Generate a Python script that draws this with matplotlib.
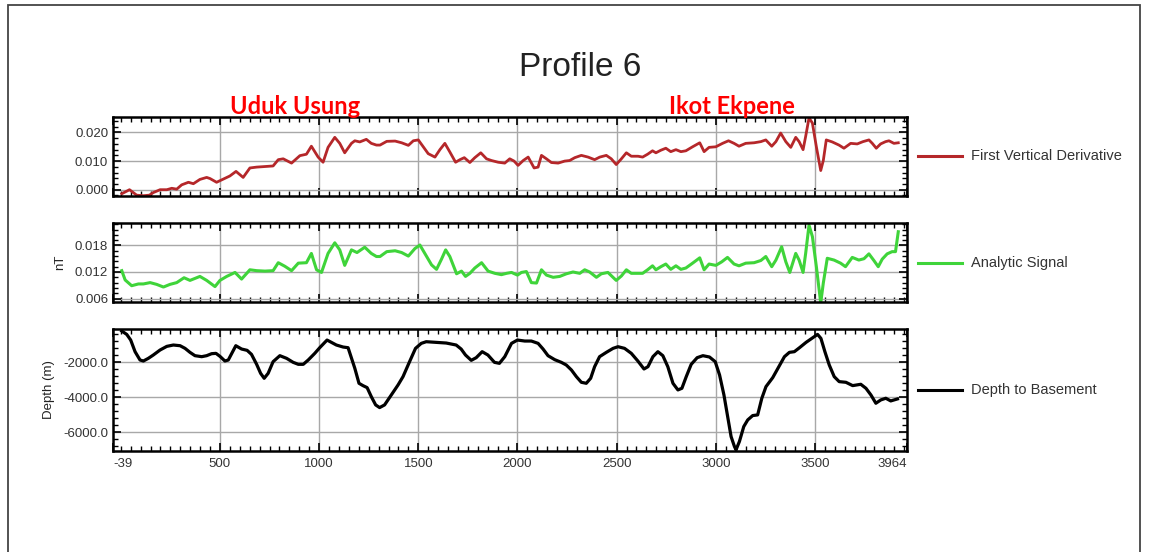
import matplotlib.pyplot as plt
import numpy as np
from matplotlib.lines import Line2D
from matplotlib.patches import Rectangle
from matplotlib.ticker import MultipleLocator

plt.rcParams['font.family'] = ['Liberation Sans', 'DejaVu Sans']
plt.rcParams['axes.unicode_minus'] = False

# station distance along profile 6 and the three traces
fvd_x = [5, 44, 80, 114, 144, 164, 198, 232, 257, 282, 307, 341, 366, 399, 433, 450,
         483, 525, 550, 581, 617, 651, 685, 727, 768, 794, 819, 861, 903, 936, 961, 995,
         1020, 1045, 1079, 1104, 1129, 1163, 1180, 1205, 1238, 1263, 1289, 1307, 1341,
         1383, 1416, 1450, 1475, 1500, 1525, 1550, 1584, 1609, 1634, 1659, 1688, 1710,
         1732, 1760, 1785, 1815, 1844, 1869, 1903, 1936, 1961, 1983, 2003, 2029, 2054,
         2084, 2104, 2121, 2146, 2171, 2205, 2238, 2263, 2289, 2322, 2356, 2389, 2415,
         2448, 2473, 2498, 2524, 2549, 2574, 2608, 2631, 2656, 2681, 2698, 2723, 2748,
         2773, 2799, 2824, 2849, 2883, 2919, 2941, 2966, 3000, 3034, 3064, 3092, 3117,
         3151, 3193, 3227, 3252, 3282, 3303, 3327, 3353, 3378, 3403, 3420, 3440, 3453,
         3470, 3487, 3507, 3529, 3542, 3557, 3587, 3621, 3646, 3680, 3713, 3742, 3772,
         3789, 3809, 3831, 3856, 3873, 3898, 3920]
fvd_y = [-0.0014, 0.0000, -0.0019, -0.0021, -0.0019, -0.0010, 0.0000, 0.0000, 0.0005,
         0.0002, 0.0017, 0.0026, 0.0021, 0.0036, 0.0043, 0.0039, 0.0026, 0.0040, 0.0048,
         0.0064, 0.0043, 0.0076, 0.0079, 0.0081, 0.0083, 0.0105, 0.0108, 0.0093, 0.0119,
         0.0124, 0.0152, 0.0114, 0.0096, 0.0148, 0.0183, 0.0162, 0.0129, 0.0162, 0.0171,
         0.0167, 0.0176, 0.0162, 0.0156, 0.0156, 0.0169, 0.0170, 0.0164, 0.0155, 0.0171,
         0.0174, 0.0150, 0.0126, 0.0114, 0.0140, 0.0162, 0.0132, 0.0096, 0.0105, 0.0112,
         0.0095, 0.0112, 0.0129, 0.0108, 0.0102, 0.0096, 0.0093, 0.0108, 0.0100, 0.0085,
         0.0102, 0.0114, 0.0076, 0.0079, 0.0120, 0.0108, 0.0095, 0.0093, 0.0100, 0.0102,
         0.0112, 0.0120, 0.0114, 0.0105, 0.0114, 0.0120, 0.0108, 0.0088, 0.0108, 0.0129,
         0.0117, 0.0117, 0.0114, 0.0124, 0.0136, 0.0129, 0.0138, 0.0145, 0.0133, 0.0140,
         0.0133, 0.0136, 0.0150, 0.0164, 0.0133, 0.0148, 0.0150, 0.0162, 0.0171, 0.0162,
         0.0152, 0.0162, 0.0164, 0.0168, 0.0174, 0.0152, 0.0168, 0.0198, 0.0168, 0.0148,
         0.0183, 0.0168, 0.0140, 0.0186, 0.0251, 0.0233, 0.0150, 0.0067, 0.0102, 0.0174,
         0.0167, 0.0156, 0.0145, 0.0162, 0.0160, 0.0168, 0.0174, 0.0162, 0.0145, 0.0160,
         0.0168, 0.0171, 0.0162, 0.0164]

as_x = [5, 22, 55, 89, 114, 148, 181, 215, 248, 282, 319, 349, 399, 433, 475, 500, 534,
        576, 609, 651, 685, 727, 768, 794, 827, 861, 895, 936, 961, 987, 1012, 1045, 1079,
        1104, 1129, 1163, 1191, 1230, 1263, 1289, 1307, 1341, 1383, 1416, 1450, 1483,
        1508, 1534, 1567, 1592, 1617, 1638, 1659, 1693, 1718, 1738, 1760, 1785, 1819,
        1852, 1886, 1919, 1945, 1970, 2000, 2020, 2045, 2070, 2096, 2121, 2146, 2180,
        2213, 2247, 2280, 2314, 2339, 2364, 2398, 2423, 2456, 2498, 2524, 2549, 2574,
        2608, 2631, 2656, 2681, 2698, 2723, 2748, 2773, 2799, 2824, 2849, 2883, 2919,
        2941, 2966, 3000, 3030, 3059, 3092, 3117, 3151, 3193, 3227, 3252, 3282, 3303,
        3332, 3353, 3373, 3403, 3420, 3440, 3453, 3470, 3487, 3507, 3529, 3542, 3562,
        3596, 3629, 3654, 3688, 3721, 3747, 3772, 3797, 3819, 3839, 3864, 3889, 3906, 3920]
as_y = [0.0123, 0.0102, 0.0089, 0.0093, 0.0093, 0.0096, 0.0092, 0.0086, 0.0092, 0.0096,
        0.0107, 0.0101, 0.0110, 0.0101, 0.0087, 0.0101, 0.0110, 0.0119, 0.0104, 0.0125,
        0.0123, 0.0122, 0.0123, 0.0141, 0.0133, 0.0123, 0.0140, 0.0141, 0.0162, 0.0125,
        0.0119, 0.0162, 0.0186, 0.0170, 0.0135, 0.0170, 0.0164, 0.0176, 0.0162, 0.0155,
        0.0155, 0.0166, 0.0168, 0.0164, 0.0156, 0.0173, 0.0181, 0.0161, 0.0136, 0.0126,
        0.0149, 0.0170, 0.0155, 0.0116, 0.0122, 0.0110, 0.0117, 0.0129, 0.0141, 0.0122,
        0.0117, 0.0114, 0.0117, 0.0119, 0.0113, 0.0119, 0.0121, 0.0096, 0.0095, 0.0125,
        0.0113, 0.0108, 0.0110, 0.0116, 0.0120, 0.0117, 0.0125, 0.0120, 0.0108, 0.0116,
        0.0119, 0.0101, 0.0111, 0.0125, 0.0117, 0.0117, 0.0117, 0.0125, 0.0134, 0.0125,
        0.0132, 0.0138, 0.0126, 0.0134, 0.0126, 0.0129, 0.0140, 0.0152, 0.0125, 0.0138,
        0.0135, 0.0143, 0.0153, 0.0138, 0.0134, 0.0140, 0.0141, 0.0146, 0.0155, 0.0132,
        0.0147, 0.0177, 0.0143, 0.0119, 0.0162, 0.0147, 0.0119, 0.0162, 0.0226, 0.0200,
        0.0132, 0.0050, 0.0095, 0.0151, 0.0147, 0.0140, 0.0132, 0.0153, 0.0147, 0.0150,
        0.0161, 0.0146, 0.0132, 0.0149, 0.0161, 0.0166, 0.0166, 0.0211]

depth_x = [5, 30, 50, 72, 97, 114, 139, 164, 198, 232, 265, 299, 324, 349, 374, 408, 433,
           458, 480, 500, 525, 542, 564, 580, 609, 637, 659, 685, 705, 723, 743, 768, 802,
           836, 869, 895, 920, 945, 978, 1003, 1024, 1040, 1062, 1087, 1121, 1146, 1158,
           1180, 1201, 1221, 1242, 1263, 1285, 1305, 1330, 1364, 1398, 1423, 1456, 1486,
           1515, 1540, 1590, 1641, 1691, 1716, 1738, 1767, 1792, 1822, 1851, 1884, 1909,
           1936, 1970, 2000, 2037, 2070, 2104, 2129, 2154, 2188, 2221, 2246, 2272, 2297,
           2322, 2347, 2369, 2389, 2414, 2448, 2482, 2507, 2540, 2574, 2607, 2638, 2658,
           2683, 2708, 2733, 2758, 2784, 2809, 2829, 2851, 2876, 2906, 2935, 2968, 2997,
           3019, 3041, 3061, 3077, 3094, 3102, 3119, 3141, 3161, 3186, 3211, 3232, 3253,
           3287, 3321, 3346, 3371, 3396, 3422, 3455, 3489, 3513, 3530, 3550, 3572, 3597,
           3622, 3656, 3690, 3731, 3757, 3782, 3807, 3832, 3857, 3882, 3916]
depth_y = [-209, -400, -724, -1390, -1867, -1924, -1771, -1581, -1295, -1086, -1009, -1048,
           -1200, -1429, -1619, -1676, -1619, -1505, -1486, -1657, -1924, -1867, -1390,
           -1048, -1238, -1314, -1543, -2114, -2629, -2914, -2629, -1962, -1619, -1771,
           -2000, -2114, -2114, -1867, -1486, -1162, -914, -724, -857, -1009, -1124, -1162,
           -1581, -2343, -3200, -3333, -3448, -3962, -4438, -4591, -4438, -3867, -3295,
           -2819, -1962, -1200, -914, -819, -857, -895, -1009, -1238, -1581, -1886, -1733,
           -1390, -1581, -2000, -2057, -1676, -914, -724, -781, -781, -914, -1238, -1619,
           -1848, -2000, -2152, -2438, -2819, -3143, -3200, -2914, -2248, -1676, -1429,
           -1200, -1105, -1200, -1486, -1924, -2381, -2248, -1676, -1390, -1619, -2248,
           -3200, -3581, -3486, -2819, -2114, -1733, -1619, -1695, -1962, -2724, -3867,
           -5200, -6248, -6820, -7010, -6534, -5677, -5296, -5048, -5010, -4057, -3391,
           -2876, -2191, -1676, -1429, -1390, -1162, -857, -591, -400, -629, -1390, -2152,
           -2819, -3105, -3143, -3333, -3257, -3486, -3867, -4343, -4152, -4057, -4210, -4095]

x_ticks = [-39, 500, 1000, 1500, 2000, 2500, 3000, 3500, 3964]
x_labels = ['-39', '500', '1000', '1500', '2000', '2500', '3000', '3500', '3964']
names = ['First Vertical Derivative', 'Analytic Signal', 'Depth to Basement']
colors = ['#b5272a', '#3fd43a', '#000000']

fig = plt.figure(figsize=(11.5, 5.52), dpi=100)

# page frame
fig.add_artist(Rectangle((0.007, -0.05), 0.984, 1.041, transform=fig.transFigure,
                         fill=False, edgecolor='#444444', linewidth=1.3))

ax1 = fig.add_axes([0.0983, 0.6449, 0.6904, 0.1431])
ax2 = fig.add_axes([0.0983, 0.4534, 0.6904, 0.1420])
ax3 = fig.add_axes([0.0983, 0.1835, 0.6904, 0.2199])

ax1.plot(fvd_x, fvd_y, color=colors[0], lw=2.0, solid_joinstyle='round')
ax2.plot(as_x, as_y, color=colors[1], lw=2.2, solid_joinstyle='round')
ax3.plot(depth_x, depth_y, color=colors[2], lw=2.3, solid_joinstyle='round')

ax1.set_ylim(-0.0022, 0.0254)
ax1.set_yticks([0.0, 0.010, 0.020])
ax1.set_yticklabels(['0.000', '0.010', '0.020'])
ax1.yaxis.set_minor_locator(MultipleLocator(0.002))

ax2.set_ylim(0.00528, 0.0230)
ax2.set_yticks([0.006, 0.012, 0.018])
ax2.set_yticklabels(['0.006', '0.012', '0.018'])
ax2.yaxis.set_minor_locator(MultipleLocator(0.0012))
ax2.set_ylabel('nT', fontsize=9.5, color='#222222', labelpad=6)

ax3.set_ylim(-7060, -110)
ax3.set_yticks([-6000, -4000, -2000])
ax3.set_yticklabels(['-6000.0', '-4000.0', '-2000.0'])
ax3.yaxis.set_minor_locator(MultipleLocator(400))
ax3.set_ylabel('Depth (m)', fontsize=9.5, color='#222222', labelpad=6)

for ax in (ax1, ax2, ax3):
    ax.set_xlim(-39, 3964)
    ax.set_xticks(x_ticks)
    ax.xaxis.set_minor_locator(MultipleLocator(50))
    ax.grid(True, which='major', color='#a8a8a8', linewidth=1.0)
    ax.tick_params(which='both', direction='in', top=True, right=True,
                   labelsize=9.5, labelcolor='#333333')
    ax.tick_params(which='major', length=6, width=1.2)
    ax.tick_params(which='minor', length=3.5, width=1.0)
    for s in ax.spines.values():
        s.set_linewidth(1.8)
    if ax is not ax3:
        ax.tick_params(labelbottom=False)

ax3.set_xticklabels(x_labels)
ax3.tick_params(axis='x', pad=5)
xl = ax3.get_xticklabels()
xl[0].set_ha('left')
xl[-1].set_ha('right')

# legend entries beside each panel
for i, yy in enumerate([155.7, 262.7, 390.0]):
    fy = 1 - yy / 552
    fig.add_artist(Line2D([918 / 1150, 962 / 1150], [fy, fy], transform=fig.transFigure,
                          color=colors[i], lw=2.2))
    fig.text(971 / 1150, fy, names[i], fontsize=10.5, color='#333333', va='center', ha='left')

fig.text(0.5043, 1 - 68 / 552, 'Profile 6', fontsize=24, color='#222222', ha='center', va='center')
fig.text(295 / 1150, 1 - 107 / 552, 'Uduk Usung', fontsize=17, fontweight='bold',
         family=['Lato', 'DejaVu Sans'], color='#ff0000', ha='center', va='center')
fig.text(732 / 1150, 1 - 107 / 552, 'Ikot Ekpene', fontsize=17, fontweight='bold',
         family=['Lato', 'DejaVu Sans'], color='#ff0000', ha='center', va='center')

fig.savefig('out.png', dpi=100)
